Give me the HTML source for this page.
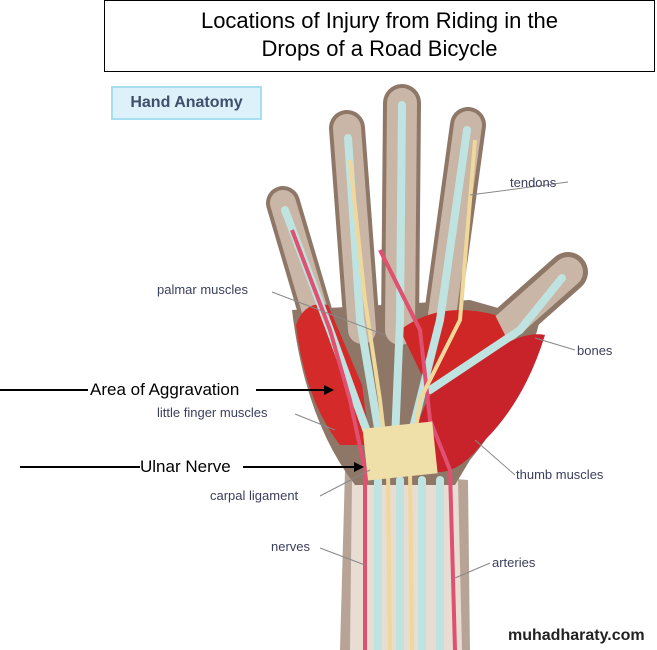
<!DOCTYPE html>
<html><head><meta charset="utf-8"><style>
html,body{margin:0;padding:0;background:#fff;}
body{width:657px;height:650px;position:relative;overflow:hidden;font-family:"Liberation Sans",sans-serif;}
.t{position:absolute;font-size:13px;color:#3a3f5c;}
</style></head><body>
<svg width="657" height="650" style="position:absolute;left:0;top:0">
<path d="M345 470 L340 650 L470 650 L468 480 Z" fill="#b8a496"/>
<path d="M352 480 L350 650 L462 650 L458 480 Z" fill="#e8ddd3"/>
<g stroke="#8e7767" stroke-linecap="round" fill="none">
<path d="M283 203 L322 335" stroke-width="34"/>
<path d="M347 128 L362 330" stroke-width="36"/>
<path d="M402 103 L400 330" stroke-width="38"/>
<path d="M468 125 L440 330" stroke-width="36"/>
<path d="M568 272 L480 350" stroke-width="40"/>
</g>
<path d="M292 310 L470 300 L540 320 Q520 400 470 460 L455 485 L355 485 Q305 420 292 310Z" fill="#8e7767"/>
<g stroke="#c9b6a6" stroke-linecap="round" fill="none">
<path d="M283 203 L322 335" stroke-width="26"/>
<path d="M347 128 L362 330" stroke-width="28"/>
<path d="M402 103 L400 330" stroke-width="30"/>
<path d="M468 125 L440 330" stroke-width="28"/>
<path d="M568 272 L480 350" stroke-width="30"/>
</g>
<path d="M296 325 Q305 300 328 305 L362 385 L370 445 L340 445 Q305 400 296 325Z" fill="#d42a2a"/>
<path d="M400 330 Q440 300 495 315 L515 355 Q470 400 430 392 Z" fill="#cf2626"/>
<path d="M418 425 Q432 372 480 360 Q520 330 545 335 Q525 400 485 440 Q455 480 428 470 Z" fill="#c8222a"/>
<g stroke="#bfe3e0" stroke-width="8" fill="none" stroke-linecap="round">
<path d="M285 210 L330 330 L370 440"/><path d="M348 138 L360 320 L380 440"/>
<path d="M402 105 L400 320 L395 440"/><path d="M467 130 L440 320 L410 440"/>
<path d="M562 278 L520 330 L430 390"/>
<path d="M378 480 L378 650"/><path d="M400 480 L400 650"/><path d="M422 480 L422 650"/><path d="M440 480 L440 650"/>
</g>
<g fill="none" stroke-width="4">
<path d="M365 650 L365 470 L350 400 L330 330 L292 230" stroke="#e05070"/>
<path d="M455 650 L450 470 L430 420 L420 330 L380 250" stroke="#e05070"/>
<path d="M390 650 L388 470 L380 400 L365 300 L350 160" stroke="#f0d79a"/>
<path d="M412 650 L410 470 L420 400 L460 320 L475 140" stroke="#f0d79a"/>
</g>
<rect x="365" y="425" width="70" height="52" fill="#efdfa9" transform="rotate(-6 400 450)"/>
<g stroke="#888" stroke-width="1">
<line x1="568" y1="182" x2="470" y2="195"/><line x1="272" y1="292" x2="385" y2="335"/>
<line x1="575" y1="350" x2="535" y2="338"/><line x1="295" y1="414" x2="335" y2="430"/>
<line x1="320" y1="496" x2="370" y2="470"/><line x1="515" y1="475" x2="475" y2="440"/>
<line x1="320" y1="548" x2="365" y2="565"/><line x1="490" y1="563" x2="455" y2="578"/>
</g>
<g stroke="#000" stroke-width="2">
<line x1="0" y1="390" x2="88" y2="390"/><line x1="256" y1="390" x2="325" y2="390"/>
<line x1="20" y1="467" x2="140" y2="467"/><line x1="243" y1="467" x2="355" y2="467"/>
</g>
<polygon points="334,390 324,385 324,395" fill="#000"/>
<polygon points="364,467 354,462 354,472" fill="#000"/>
</svg>
<div style="position:absolute;left:104px;top:0;width:551px;height:72px;border:1px solid #000;background:#fff;text-align:center;font-size:22px;line-height:28px;padding-top:6px;box-sizing:border-box;">Locations of Injury from Riding in the<br>Drops of a Road Bicycle</div>
<div style="position:absolute;left:111px;top:86px;width:151px;height:34px;border:2px solid #a8dff0;background:#dcf1fa;box-sizing:border-box;font-weight:bold;color:#3d4f6a;font-size:16px;text-align:center;line-height:30px;">Hand Anatomy</div>
<div class="t" style="left:510px;top:175px">tendons</div>
<div class="t" style="left:157px;top:282px">palmar muscles</div>
<div class="t" style="left:577px;top:343px">bones</div>
<div class="t" style="left:157px;top:405px">little finger muscles</div>
<div class="t" style="left:516px;top:467px">thumb muscles</div>
<div class="t" style="left:210px;top:488px">carpal ligament</div>
<div class="t" style="left:271px;top:539px">nerves</div>
<div class="t" style="left:492px;top:555px">arteries</div>
<div style="position:absolute;left:90px;top:380px;font-size:17px;">Area of Aggravation</div>
<div style="position:absolute;left:140px;top:457px;font-size:17px;">Ulnar Nerve</div>
<div style="position:absolute;left:508px;top:627px;font-size:16px;font-weight:bold;color:#222;">muhadharaty.com</div>
</body></html>
